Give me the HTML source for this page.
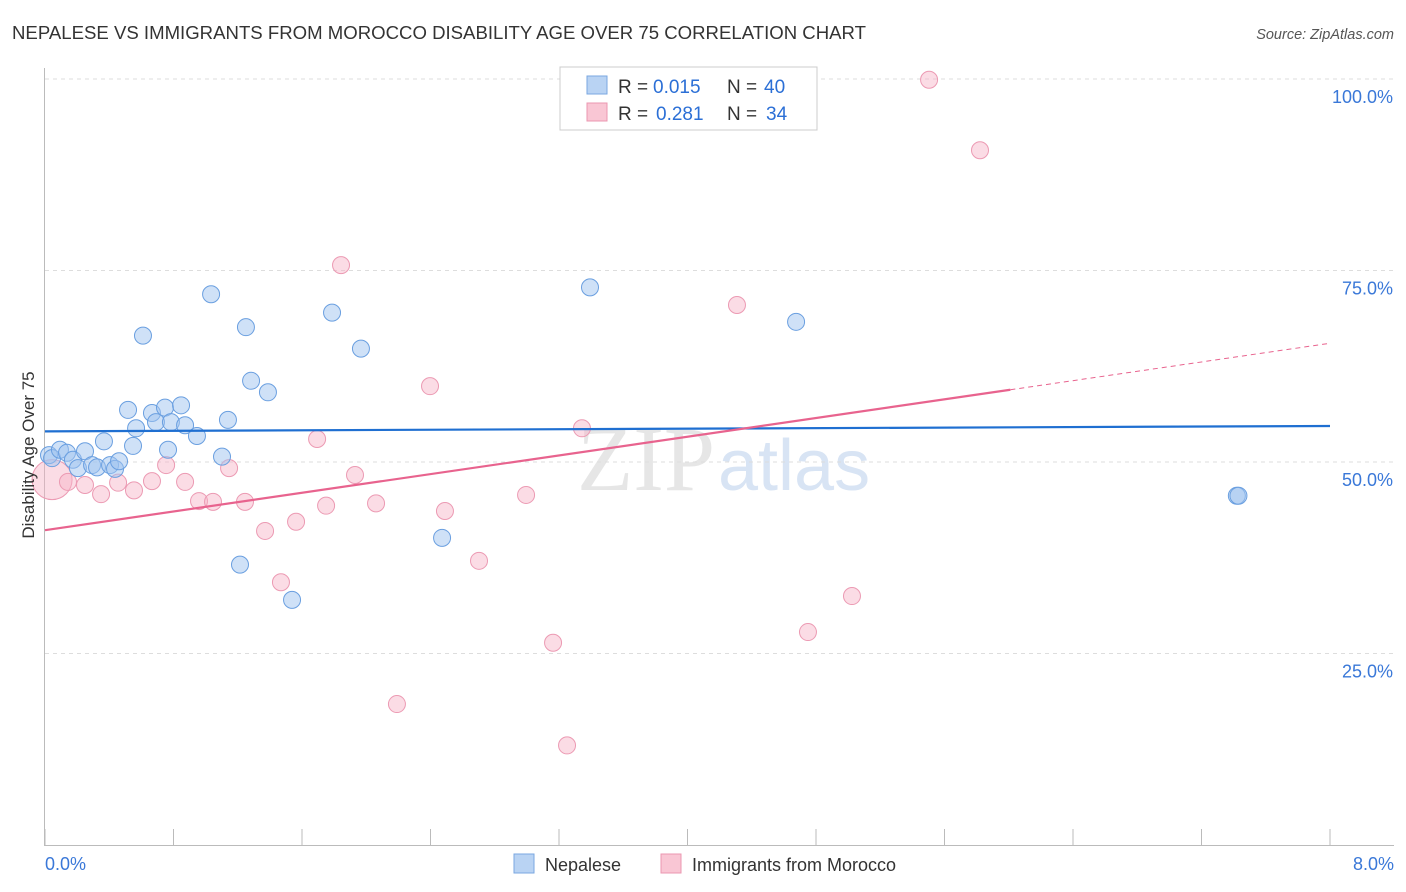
<!DOCTYPE html>
<html><head><meta charset="utf-8"><style>
body{margin:0;background:#fff;font-family:"Liberation Sans",sans-serif;}
svg{display:block}
</style></head><body>
<svg id="chart" width="1406" height="892">
<text x="12" y="39" font-size="18" textLength="854" lengthAdjust="spacingAndGlyphs" fill="#333">NEPALESE VS IMMIGRANTS FROM MOROCCO DISABILITY AGE OVER 75 CORRELATION CHART</text>
<text x="1394" y="39" font-size="14.5" fill="#555" font-style="italic" text-anchor="end">Source: ZipAtlas.com</text>
<text x="715" y="490" font-size="92" fill="#e6e6e6" text-anchor="end" font-family="Liberation Serif">ZIP</text>
<text x="718" y="490" font-size="72" fill="#d8e4f4">atlas</text>
<g id="grid"></g>
<g id="axes"></g>
<g id="marks"></g>
<text x="34" y="455" font-size="17" fill="#333" text-anchor="middle" transform="rotate(-90 34 455)">Disability Age Over 75</text>
<g>
<rect x="560" y="67" width="257" height="63" fill="#fff" stroke="#ccc"/>
<rect x="587" y="76" width="20" height="18" fill="#b9d3f3" stroke="#7aa7e0"/>
<text x="618" y="93" font-size="19" fill="#333">R =</text>
<text x="653" y="93" font-size="19" fill="#2b6fd6">0.015</text>
<text x="727" y="93" font-size="19" fill="#333">N =</text>
<text x="764" y="93" font-size="19" fill="#2b6fd6">40</text>
<rect x="587" y="103" width="20" height="18" fill="#f9c6d4" stroke="#eb97b0"/>
<text x="618" y="120" font-size="19" fill="#333">R =</text>
<text x="656" y="120" font-size="19" fill="#2b6fd6">0.281</text>
<text x="727" y="120" font-size="19" fill="#333">N =</text>
<text x="766" y="120" font-size="19" fill="#2b6fd6">34</text>
</g>
<g>
<rect x="514" y="854" width="20" height="19" fill="#b9d3f3" stroke="#7aa7e0"/>
<text x="545" y="871" font-size="18" fill="#333">Nepalese</text>
<rect x="661" y="854" width="20" height="19" fill="#f9c6d4" stroke="#eb97b0"/>
<text x="692" y="871" font-size="18" fill="#333">Immigrants from Morocco</text>
</g>
</svg>
<script>
const blueX=[0.025,0.044,0.093,0.137,0.174,0.205,0.249,0.293,0.324,0.367,0.405,0.436,0.461,0.517,0.548,0.567,0.610,0.666,0.691,0.747,0.766,0.784,0.847,0.872,0.946,1.034,1.102,1.139,1.214,1.251,1.283,1.388,1.538,1.787,1.967,2.472,3.393,4.676,7.42,7.43];
const blueY=[50.9,50.5,51.6,51.2,50.3,49.2,51.4,49.6,49.3,52.7,49.6,49.1,50.1,56.8,52.1,54.4,66.5,56.4,55.2,57.1,51.6,55.2,57.4,54.8,53.4,71.9,50.7,55.5,36.6,67.6,60.6,59.1,32.0,69.5,64.8,40.1,72.8,68.3,45.6,45.6];
const pinkX=[0.044,0.143,0.249,0.349,0.455,0.554,0.666,0.754,0.872,0.959,1.046,1.146,1.245,1.370,1.469,1.563,1.694,1.750,1.843,1.930,2.061,2.191,2.397,2.490,2.702,2.995,3.163,3.250,3.343,4.308,4.750,5.024,5.504,5.821];
const pinkY=[47.7,47.4,47.0,45.8,47.3,46.3,47.5,49.6,47.4,44.9,44.8,49.2,44.8,41.0,34.3,42.2,53.0,44.3,75.7,48.3,44.6,18.4,59.9,43.6,37.1,45.7,26.4,13.0,54.4,70.5,27.8,32.5,99.9,90.7];
const blueTrend=[54.0,54.7];
const pinkTrend=[41.1,65.5];
const pinkSolidEnd=6.01;
const yTicks=[25,50,75,100];
const yTickLabels=["25.0%","50.0%","75.0%","100.0%"];
const xTicks=[0,0.8,1.6,2.4,3.2,4.0,4.8,5.6,6.4,7.2,8.0];
const xEdgeLabels=["0.0%","8.0%"];
const NS="http://www.w3.org/2000/svg";
const sx=v=>45+v*160.625, sy=v=>845-v*7.66;
function mk(p,t,a){const e=document.createElementNS(NS,t);for(const k in a)e.setAttribute(k,a[k]);p.appendChild(e);return e;}
const grid=document.getElementById('grid'),axes=document.getElementById('axes'),marks=document.getElementById('marks');
yTicks.forEach((v,i)=>{
 const l=mk(grid,'line',{x1:45,x2:1394,y1:sy(v),y2:sy(v),stroke:'#ddd','stroke-dasharray':'4,4'});
 
 
 const t=mk(axes,'text',{x:1393,y:sy(v)+24,'font-size':18,fill:'#3a78d8','text-anchor':'end'});t.textContent=yTickLabels[i];
 
 
});
const ax=mk(axes,'line',{x1:44.5,x2:44.5,y1:68,y2:845,stroke:'#bbb'});


const bx=mk(axes,'line',{x1:44,x2:1394,y1:845.5,y2:845.5,stroke:'#bbb'});


xTicks.forEach(v=>{const t=mk(axes,'line',{x1:sx(v),x2:sx(v),y1:829,y2:845,stroke:'#bbb'});
 
 });
[[0,'start',45],[8,'end',1394]].forEach((d,i)=>{const t=mk(axes,'text',{x:d[2],y:870,'font-size':18,fill:'#3a78d8','text-anchor':d[1]});t.textContent=xEdgeLabels[i];
 
 });
pinkX.forEach((x,i)=>{const c=mk(marks,'circle',{cx:sx(x),cy:sy(pinkY[i]),r:i==0?20:8.5,fill:'rgba(246,178,198,0.45)',stroke:'#ec9ab3','stroke-width':1});
 
 });
blueX.forEach((x,i)=>{const c=mk(marks,'circle',{cx:sx(x),cy:sy(blueY[i]),r:8.5,fill:'rgba(160,195,240,0.5)',stroke:'#6a9fe0','stroke-width':1});
 
 });
const bl=mk(marks,'line',{x1:sx(0),y1:sy(blueTrend[0]),x2:sx(8),y2:sy(blueTrend[1]),stroke:'#1f6fd1','stroke-width':2.2});


const pe=pinkTrend[0]+(pinkTrend[1]-pinkTrend[0])*pinkSolidEnd/8;
const pl=mk(marks,'line',{x1:sx(0),y1:sy(pinkTrend[0]),x2:sx(pinkSolidEnd),y2:sy(pe),stroke:'#e8638e','stroke-width':2.2});


const pd=mk(marks,'line',{x1:sx(pinkSolidEnd),y1:sy(pe),x2:sx(8),y2:sy(pinkTrend[1]),stroke:'#e8638e','stroke-width':1,'stroke-dasharray':'5,4'});


</script>
</body></html>
